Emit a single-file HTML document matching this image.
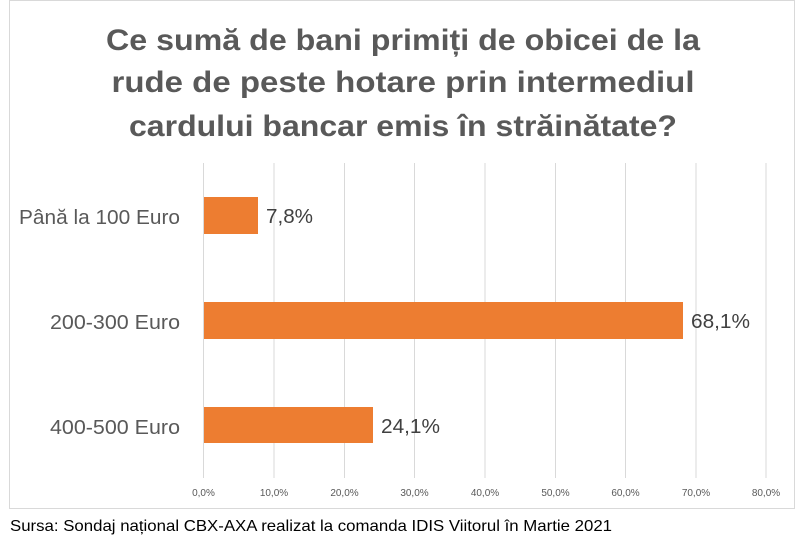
<!DOCTYPE html>
<html><head><meta charset="utf-8"><style>
html,body{margin:0;padding:0;background:#fff;width:796px;height:542px;overflow:hidden}
svg{display:block}
</style></head><body>
<svg width="796" height="542" viewBox="0 0 796 542" xmlns="http://www.w3.org/2000/svg" font-family="'Liberation Sans', sans-serif">
<rect x="9.5" y="0.5" width="785" height="508" fill="#fff" stroke="#d9d9d9"/>
<g fill="#595959" font-weight="bold" font-size="30" text-anchor="middle">
<text x="403" y="50" textLength="594" lengthAdjust="spacingAndGlyphs">Ce sumă de bani primiți de obicei de la</text>
<text x="403" y="92" textLength="583" lengthAdjust="spacingAndGlyphs">rude de peste hotare prin intermediul</text>
<text x="403" y="136" textLength="548" lengthAdjust="spacingAndGlyphs">cardului bancar emis în străinătate?</text>
</g>
<g stroke="#d9d9d9" stroke-width="1">
<line x1="203.5" y1="163" x2="203.5" y2="478"/>
<line x1="274" y1="163" x2="274" y2="478"/>
<line x1="344.5" y1="163" x2="344.5" y2="478"/>
<line x1="414.5" y1="163" x2="414.5" y2="478"/>
<line x1="485" y1="163" x2="485" y2="478"/>
<line x1="555.5" y1="163" x2="555.5" y2="478"/>
<line x1="625.5" y1="163" x2="625.5" y2="478"/>
<line x1="696" y1="163" x2="696" y2="478"/>
<line x1="766" y1="163" x2="766" y2="478"/>
</g>
<g fill="#ed7d31">
<rect x="204" y="197" width="54" height="37"/>
<rect x="204" y="302" width="479" height="37"/>
<rect x="204" y="407" width="169" height="36"/>
</g>
<g fill="#404040" font-size="20">
<text x="266" y="223" textLength="47" lengthAdjust="spacingAndGlyphs">7,8%</text>
<text x="691" y="328" textLength="59" lengthAdjust="spacingAndGlyphs">68,1%</text>
<text x="381" y="433" textLength="59" lengthAdjust="spacingAndGlyphs">24,1%</text>
</g>
<g fill="#595959" font-size="20">
<text x="19" y="224" textLength="161" lengthAdjust="spacingAndGlyphs">Până la 100 Euro</text>
<text x="50" y="329" textLength="130" lengthAdjust="spacingAndGlyphs">200-300 Euro</text>
<text x="50" y="434" textLength="130" lengthAdjust="spacingAndGlyphs">400-500 Euro</text>
</g>
<g fill="#595959" font-size="10" text-anchor="middle">
<text x="203.5" y="496">0,0%</text>
<text x="274" y="496">10,0%</text>
<text x="344.5" y="496">20,0%</text>
<text x="414.5" y="496">30,0%</text>
<text x="485" y="496">40,0%</text>
<text x="555.5" y="496">50,0%</text>
<text x="625.5" y="496">60,0%</text>
<text x="696" y="496">70,0%</text>
<text x="766" y="496">80,0%</text>
</g>
<text x="10" y="531" font-size="16" fill="#000" textLength="602" lengthAdjust="spacingAndGlyphs">Sursa: Sondaj național CBX-AXA realizat la comanda IDIS Viitorul în Martie 2021</text>
</svg>
</body></html>
